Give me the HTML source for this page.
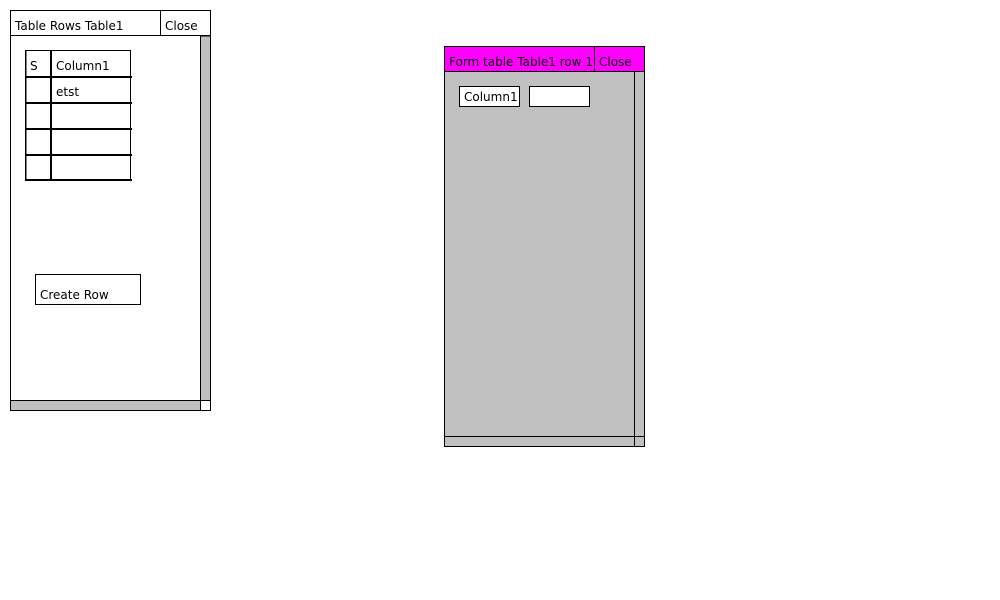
<!DOCTYPE html>
<html><head><meta charset="utf-8"><style>
html,body{margin:0;padding:0;background:#fff;width:1000px;height:600px;overflow:hidden}
text{font-family:"DejaVu Sans","Liberation Sans",sans-serif;font-size:12px;fill:#000}
</style></head><body>
<svg width="1000" height="600" xmlns="http://www.w3.org/2000/svg">
<defs><clipPath id="c1"><rect x="445" y="47" width="149" height="25"/></clipPath></defs>
<!-- Left window -->
<rect x="10.5" y="10.5" width="200" height="400" fill="#fff" stroke="#000"/>
<line x1="10" y1="35.5" x2="211" y2="35.5" stroke="#000"/>
<line x1="160.5" y1="10" x2="160.5" y2="36" stroke="#000"/>
<text x="15" y="30">Table Rows Table1</text>
<text x="165" y="30">Close</text>
<rect x="200.5" y="36" width="10" height="364.5" fill="#c0c0c0" stroke="#000"/>
<rect x="10.5" y="400.5" width="190" height="10" fill="#c0c0c0" stroke="#000"/>
<!-- table -->
<rect x="25.5" y="50.5" width="105" height="129" fill="#fff" stroke="#000" stroke-width="1"/>
<g stroke="#000" stroke-width="2">
<line x1="51" y1="50" x2="51" y2="181"/>
<line x1="25" y1="77" x2="132" y2="77"/>
<line x1="25" y1="103" x2="132" y2="103"/>
<line x1="25" y1="129" x2="132" y2="129"/>
<line x1="25" y1="155" x2="132" y2="155"/>
<line x1="25" y1="180" x2="132" y2="180"/>
<line x1="26" y1="50" x2="26" y2="181" stroke-width="1"/>
</g>
<text x="30" y="70">S</text>
<text x="56" y="70">Column1</text>
<text x="56" y="96">etst</text>
<rect x="35.5" y="274.5" width="105" height="30" fill="#fff" stroke="#000"/>
<text x="40" y="299">Create Row</text>
<!-- Right window -->
<rect x="444.5" y="46.5" width="200" height="400" fill="#c0c0c0" stroke="#000"/>
<rect x="444.5" y="46.5" width="200" height="25" fill="#ff00ff" stroke="#000"/>
<text x="449" y="66" clip-path="url(#c1)">Form table Table1 row 1</text>
<line x1="594.5" y1="46" x2="594.5" y2="72" stroke="#000"/>
<text x="599" y="66">Close</text>
<line x1="634.5" y1="72" x2="634.5" y2="447" stroke="#000"/>
<line x1="444" y1="436.5" x2="645" y2="436.5" stroke="#000"/>
<rect x="459.5" y="86.5" width="60" height="20" fill="#fff" stroke="#000"/>
<text x="464" y="101">Column1</text>
<rect x="529.5" y="86.5" width="60" height="20" fill="#fff" stroke="#000"/>
</svg>
</body></html>
